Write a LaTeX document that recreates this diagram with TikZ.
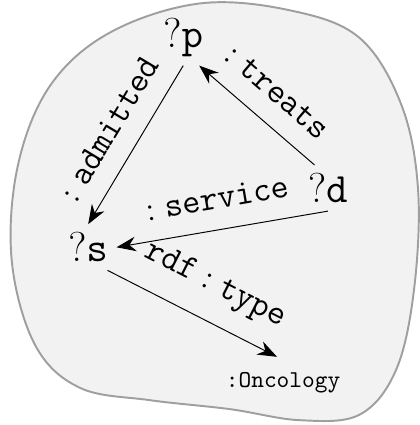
\documentclass[tikz,border=0pt]{standalone}
\usetikzlibrary{arrows.meta}
\begin{document}
\begin{tikzpicture}[>={Stealth[length=8pt,width=6pt]},
    var/.style={font=\fontsize{16}{19}\selectfont},
    lbl/.style={font=\fontsize{14}{17}\selectfont,sloped,above=5pt}]
  \useasboundingbox (0,0) rectangle (6.09,6.17);
  % the blob
  \draw[gray!75,fill=gray!10,line width=0.8pt] plot[smooth cycle,tension=0.6] coordinates {
    (2.90,6.12) (4.21,6.02) (5.22,5.62) (5.83,4.64) (6.07,3.41) (6.01,1.96)
    (5.75,0.80) (5.22,0.15) (4.35,0.07) (3.34,0.23) (2.18,0.36) (1.16,0.54)
    (0.51,1.16) (0.17,2.39) (0.26,3.77) (0.73,4.93) (1.60,5.70)};
  \node[var] (p) at (2.66,5.62) {$?\mathtt{p}$};
  \node[var] (d) at (4.76,3.44) {$?\mathtt{d}$};
  \node[var] (s) at (1.28,2.58) {$?\mathtt{s}$};
  \node (onc) at (4.11,0.62) {\texttt{:Oncology}};
  \draw[->] (p.south) -- node[lbl] {$\mathtt{:admitted}$} (s.north);
  \draw[->] (d.120) -- node[lbl] {$\mathtt{:treats}$} (p.-60);
  \draw[->] (d.south) -- node[lbl] {$\mathtt{:service}$} (s.east);
  \draw[->,shorten >=6pt] (s.-50) -- node[lbl] {$\mathtt{rdf:type}$} (onc.70);
\end{tikzpicture}
\end{document}
